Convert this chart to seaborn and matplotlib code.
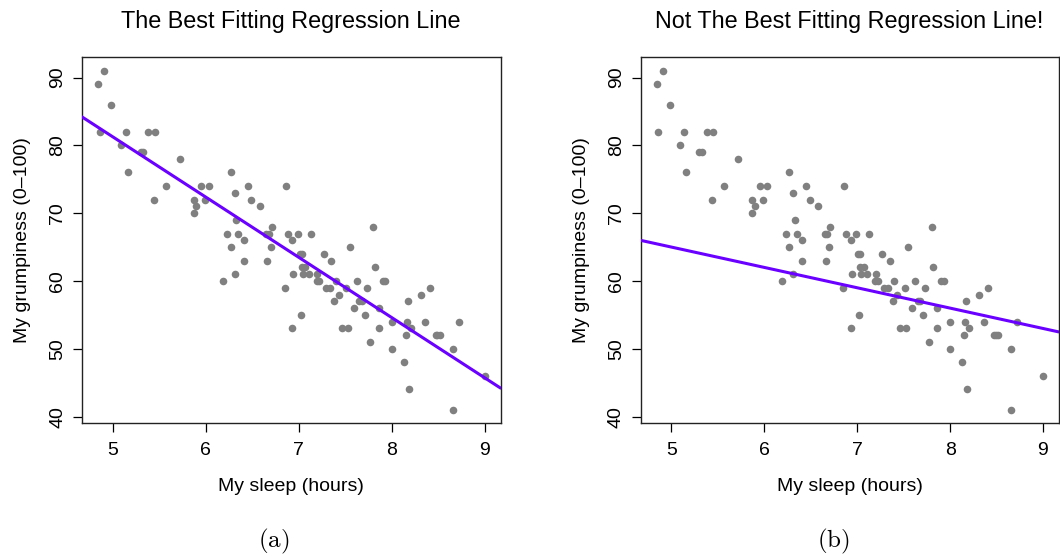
import matplotlib
matplotlib.use('Agg')

import numpy as np
import seaborn as sns
import matplotlib.pyplot as plt

# sleep (hours) and grumpiness (0-100)
sleep = [4.84, 4.91, 4.86, 4.98, 5.09, 5.14, 5.16, 5.30, 5.33, 5.38,
         5.45, 5.44, 5.57, 5.72, 5.87, 5.90, 5.87, 5.95, 6.03, 5.99,
         6.19, 6.23, 6.27, 6.27, 6.31, 6.31, 6.33, 6.35, 6.41, 6.41,
         6.45, 6.49, 6.58, 6.65, 6.68, 6.66, 6.71, 6.70, 6.86, 6.88,
         6.99, 7.13, 6.93, 7.01, 7.03, 7.03, 7.07, 6.94, 7.04, 7.11,
         7.20, 7.19, 7.22, 6.85, 7.02, 6.93, 7.27, 7.35, 7.29, 7.33,
         7.40, 7.43, 7.38, 7.51, 7.55, 7.46, 7.53, 7.62, 7.59, 7.65,
         7.68, 7.73, 7.71, 7.77, 7.80, 7.82, 7.86, 7.86, 7.90, 7.93,
         8.00, 8.00, 8.13, 8.15, 8.16, 8.17, 8.20, 8.18, 8.31, 8.36,
         8.41, 8.47, 8.49, 8.52, 8.66, 8.66, 8.72, 9.00]
grump = [89, 91, 82, 86, 80, 82, 76, 79, 79, 82,
         82, 72, 74, 78, 72, 71, 70, 74, 74, 72,
         60, 67, 76, 65, 73, 61, 69, 67, 66, 63,
         74, 72, 71, 67, 67, 63, 68, 65, 74, 67,
         67, 67, 66, 64, 64, 62, 62, 61, 61, 61,
         61, 60, 60, 59, 55, 53, 64, 63, 59, 59,
         60, 58, 57, 59, 65, 53, 53, 60, 56, 57,
         57, 59, 55, 51, 68, 62, 56, 53, 60, 60,
         54, 50, 48, 52, 54, 57, 53, 44, 58, 54,
         59, 52, 52, 52, 50, 41, 54, 46]

titles = ["The Best Fitting Regression Line", "Not The Best Fitting Regression Line!"]
captions = [r"$\mathrm{(a)}$", r"$\mathrm{(b)}$"]
x_ticks = [5, 6, 7, 8, 9]
y_ticks = [40, 50, 60, 70, 80, 90]

# hand-picked (bad) line for panel b
bad_intercept = 80
bad_slope = -3

sns.set_style("ticks")
plt.rcParams['font.family'] = ['Liberation Sans', 'DejaVu Sans']
plt.rcParams['mathtext.fontset'] = 'cm'
plt.rcParams['text.color'] = 'black'
plt.rcParams['axes.labelcolor'] = 'black'
plt.rcParams['xtick.color'] = 'black'
plt.rcParams['ytick.color'] = 'black'

best_slope, best_intercept = np.polyfit(sleep, grump, 1)
lines = [(best_intercept, best_slope), (bad_intercept, bad_slope)]

W, H = 1060, 557
fig = plt.figure(figsize=(W / 100, H / 100), dpi=100)
boxes = [(81.7, 57.2, 500.5, 423.4), (640.5, 57.2, 1058.5, 423.4)]
caption_x = [274, 833]

for i, (x0, y0, x1, y1) in enumerate(boxes):
    ax = fig.add_axes([x0 / W, 1 - y1 / H, (x1 - x0) / W, (y1 - y0) / H])
    sns.scatterplot(x=sleep, y=grump, ax=ax, color='#808080', s=30,
                    linewidth=0, zorder=2)
    b0, b1 = lines[i]
    ax.axline((0, b0), slope=b1, color='#6a00ff', linewidth=2.2, zorder=3)

    ax.set_xlim(4.667, 9.167)
    ax.set_ylim(39, 93)
    ax.set_xticks(x_ticks)
    ax.set_yticks(y_ticks)
    ax.tick_params(axis='both', direction='out', length=6.2, width=0.9,
                   labelsize=14)
    ax.tick_params(axis='x', pad=7)
    ax.tick_params(axis='y', pad=5)
    for lab in ax.get_yticklabels():
        lab.set_rotation(90)
        lab.set_va('center')
    for sp in ax.spines.values():
        sp.set_visible(True)
        sp.set_color('#222222')
        sp.set_linewidth(1.0)

    ax.set_xlabel("My sleep (hours)", fontsize=14, labelpad=14)
    ax.set_ylabel("My grumpiness (0\u2013100)", fontsize=14, labelpad=13)

    fig.text((x0 + x1) / 2 / W, 1 - 21.5 / H, titles[i], ha='center',
             va='center', fontsize=16.8)
    fig.text(caption_x[i] / W, 1 - 541.7 / H, captions[i], ha='center',
             va='center', fontsize=18)

fig.savefig("out.png", dpi=100)
plt.close(fig)
